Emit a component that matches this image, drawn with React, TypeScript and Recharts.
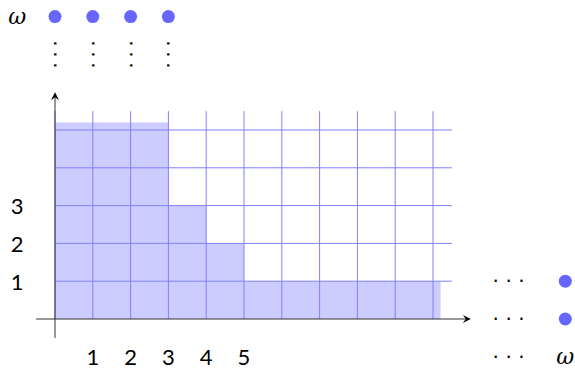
import { Area, ComposedChart, ReferenceLine, Scatter, XAxis, YAxis } from "recharts";

// one grid unit is 1cm (37.8px); origin sits at (55, 319) in the picture
const UNIT = 37.8;
const WIDTH = 575;
const HEIGHT = 369;
const X_MIN = -55 / UNIT;
const X_MAX = X_MIN + WIDTH / UNIT;
const Y_MAX = 319 / UNIT;
const Y_MIN = Y_MAX - HEIGHT / UNIT;

// staircase (value held until the next x)
const stepX = [0, 3, 4, 5, 10.2];
const stepY = [5.2, 3, 2, 1, 1];

const gridColumns = [0, 1, 2, 3, 4, 5, 6, 7, 8, 9, 10];
const gridRows = [1, 2, 3, 4, 5];
const gridTop = 5.5;
const gridRight = 10.5;

const xTickValues = [1, 2, 3, 4, 5];
const xTickLabels = ["1", "2", "3", "4", "5"];
const yTickValues = [1, 2, 3];
const yTickLabels = ["1", "2", "3"];
const tickOffset = -1;

const topDotX = [0, 1, 2, 3];
const topDotY = 8;
const vdotsY = 7;
const rightDotY = [1, 0];
const rightDotX = 13.5;
const hdotsX = 12;
const hdotsY = [1, 0, -1];
const omegaLabels = [
  { x: -1, y: 8 },
  { x: 13.5, y: -1 },
];

const xAxisLine = [{ x: -0.5, y: 0 }, { x: 11, y: 0 }];
const yAxisLine = [{ x: 0, y: -0.5 }, { x: 0, y: 6 }];

const stepData = stepX.map((x, i) => ({ x, y: stepY[i] }));
const topDots = topDotX.map((x) => ({ x, y: topDotY }));
const rightDots = rightDotY.map((y) => ({ x: rightDotX, y }));
const vdots = topDotX.map((x) => ({ x, y: vdotsY, text: "···" }));
const hdots = hdotsY.map((y) => ({ x: hdotsX, y, text: "···" }));
const xTicks = xTickValues.map((x, i) => ({ x, y: tickOffset, text: xTickLabels[i] }));
const yTicks = yTickValues.map((y, i) => ({ x: tickOffset, y, text: yTickLabels[i] }));
const omegas = omegaLabels.map((p) => ({ ...p, text: "ω" }));

const DOT_COLOR = "#6666ff";
const GRID_COLOR = "#8080ff";
const FILL_COLOR = "#ccccff";
const AXIS_COLOR = "#333333";

type ArrowProps = { x1?: number; y1?: number; x2?: number; y2?: number };

function ArrowLine({ x1 = 0, y1 = 0, x2 = 0, y2 = 0 }: ArrowProps): JSX.Element {
  const len = Math.hypot(x2 - x1, y2 - y1) || 1;
  const ux = (x2 - x1) / len;
  const uy = (y2 - y1) / len;
  const px = -uy;
  const py = ux;
  const back = 8;
  const half = 4;
  const notch = 5;
  const head = [
    `M${x2},${y2}`,
    `L${x2 - ux * back + px * half},${y2 - uy * back + py * half}`,
    `L${x2 - ux * notch},${y2 - uy * notch}`,
    `L${x2 - ux * back - px * half},${y2 - uy * back - py * half}`,
    "Z",
  ].join(" ");
  return (
    <g>
      <line x1={x1} y1={y1} x2={x2 - ux * 4} y2={y2 - uy * 4} stroke={AXIS_COLOR} strokeWidth={1} />
      <path d={head} fill="#000000" />
    </g>
  );
}

function makeText(fontFamily: string, fontSize: number, fontStyle = "normal", spacing = 0, rotate = 0) {
  return (props: any) => (
    <text
      x={props.cx}
      y={props.cy}
      dx={spacing / 2}
      textAnchor="middle"
      dominantBaseline="central"
      fontFamily={fontFamily}
      fontSize={fontSize}
      fontStyle={fontStyle}
      letterSpacing={spacing}
      transform={rotate ? `rotate(${rotate} ${props.cx} ${props.cy})` : undefined}
      fill="#000000"
    >
      {props.payload.text}
    </text>
  );
}

const sansText = makeText("Lato, sans-serif", 22);
const vdotsText = makeText("'DejaVu Sans', sans-serif", 20, "normal", 4.6, 90);
const hdotsText = makeText("'DejaVu Sans', sans-serif", 20, "normal", 6.6);
const omegaText = makeText("'DejaVu Serif', serif", 22, "italic");

export default function App(): JSX.Element {
  return (
    <div style={{ position: "absolute", left: 0, top: 0, width: WIDTH, height: HEIGHT, background: "#ffffff" }}>
      <ComposedChart width={WIDTH} height={HEIGHT} data={stepData} margin={{ top: 0, right: 0, bottom: 0, left: 0 }}>
        <XAxis type="number" dataKey="x" domain={[X_MIN, X_MAX]} allowDataOverflow hide />
        <YAxis type="number" dataKey="y" domain={[Y_MIN, Y_MAX]} allowDataOverflow hide />
        <Area
          type="stepAfter"
          dataKey="y"
          baseValue={0}
          fill={FILL_COLOR}
          fillOpacity={1}
          stroke="none"
          dot={false}
          activeDot={false}
          isAnimationActive={false}
        />
        {gridColumns.map((c) => (
          <ReferenceLine
            key={`col-${c}`}
            segment={[{ x: c, y: 0 }, { x: c, y: gridTop }]}
            stroke={GRID_COLOR}
            strokeWidth={1}
          />
        ))}
        {gridRows.map((r) => (
          <ReferenceLine
            key={`row-${r}`}
            segment={[{ x: 0, y: r }, { x: gridRight, y: r }]}
            stroke={GRID_COLOR}
            strokeWidth={1}
          />
        ))}
        <ReferenceLine segment={xAxisLine} shape={(p: ArrowProps) => <ArrowLine {...p} />} />
        <ReferenceLine segment={yAxisLine} shape={(p: ArrowProps) => <ArrowLine {...p} />} />
        <Scatter data={topDots} fill={DOT_COLOR} shape={(p: any) => <circle cx={p.cx} cy={p.cy} r={6.5} fill={DOT_COLOR} />} isAnimationActive={false} />
        <Scatter data={rightDots} fill={DOT_COLOR} shape={(p: any) => <circle cx={p.cx} cy={p.cy} r={6.5} fill={DOT_COLOR} />} isAnimationActive={false} />
        <Scatter data={vdots} shape={vdotsText} isAnimationActive={false} />
        <Scatter data={hdots} shape={hdotsText} isAnimationActive={false} />
        <Scatter data={xTicks} shape={sansText} isAnimationActive={false} />
        <Scatter data={yTicks} shape={sansText} isAnimationActive={false} />
        <Scatter data={omegas} shape={omegaText} isAnimationActive={false} />
      </ComposedChart>
    </div>
  );
}
